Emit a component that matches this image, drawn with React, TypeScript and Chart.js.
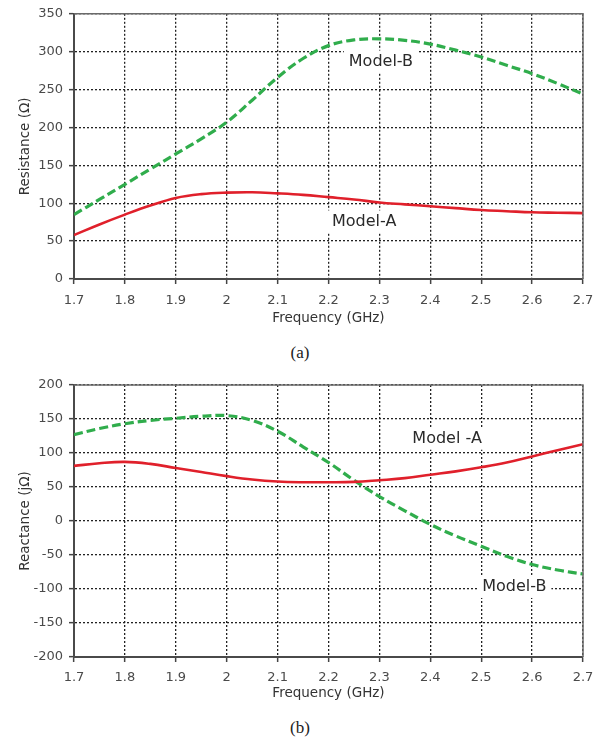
import React, { useEffect, useRef } from 'react';
import { Chart, registerables } from 'chart.js';

Chart.register(...registerables);

// ---------- data ----------
const freq = [1.7, 1.75, 1.8, 1.85, 1.9, 1.95, 2.0, 2.05, 2.1, 2.15, 2.2, 2.25, 2.3, 2.35, 2.4, 2.45, 2.5, 2.55, 2.6, 2.65, 2.7];
const resistanceA = [58, 72, 85, 97, 107, 112, 114, 114.5, 113, 111, 108, 105, 101, 98.5, 96, 93.5, 91, 89.5, 88, 87.5, 87];
const resistanceB = [85, 105, 125, 145, 165, 185, 207, 236, 266, 291, 308, 315.5, 317, 315, 310, 302, 293, 282, 271, 258, 244];
const reactanceA = [81, 85, 87, 84, 78, 72, 66, 61, 58, 57, 57, 57.5, 60, 63, 68, 73, 79, 86, 95, 104, 113];
const reactanceB = [127, 136, 143, 148, 151, 154, 155, 148, 132, 109, 86, 60, 36, 15, -5, -22, -37, -52, -64, -72, -78];

const xTickValues = [1.7, 1.8, 1.9, 2.0, 2.1, 2.2, 2.3, 2.4, 2.5, 2.6, 2.7];
const xTickLabels = ['1.7', '1.8', '1.9', '2', '2.1', '2.2', '2.3', '2.4', '2.5', '2.6', '2.7'];
const resistanceTicks = [0, 50, 100, 150, 200, 250, 300, 350];
const reactanceTicks = [-200, -150, -100, -50, 0, 50, 100, 150, 200];

const seriesNames = ['Model-A', 'Model-B'];
const topLabels = [
  { text: 'Model-B', x: 2.303, y: 287 },
  { text: 'Model-A', x: 2.27, y: 76 },
];
const bottomLabels = [
  { text: 'Model -A', x: 2.433, y: 121 },
  { text: 'Model-B', x: 2.565, y: -97 },
];

const RED = '#e0202b';
const GREEN = '#30ad4c';
const TICK_FONT = { family: '"DejaVu Sans", Verdana, sans-serif', size: 13 };
const TITLE_FONT = { family: '"DejaVu Sans", Verdana, sans-serif', size: 13.5 };

type Label = { text: string; x: number; y: number };

function makePlugin(labels: Label[]) {
  return {
    id: 'frameAndLabels',
    beforeDatasetsDraw(chart: any) {
      const { ctx } = chart;
      const xs = chart.scales.x;
      const ys = chart.scales.y;
      ctx.save();
      ctx.font = '16px "DejaVu Sans", Verdana, sans-serif';
      ctx.textAlign = 'center';
      ctx.textBaseline = 'middle';
      labels.forEach((l) => {
        const px = xs.getPixelForValue(l.x);
        const py = ys.getPixelForValue(l.y);
        const w = ctx.measureText(l.text).width;
        ctx.fillStyle = '#ffffff';
        ctx.fillRect(px - w / 2 - 5, py - 11, w + 10, 22);
        ctx.fillStyle = '#2a2a2a';
        ctx.fillText(l.text, px, py);
      });
      ctx.restore();
    },
    afterDraw(chart: any) {
      const { ctx, chartArea } = chart;
      const { left, top, right, bottom } = chartArea;
      ctx.save();
      ctx.strokeStyle = '#6a6a6a';
      ctx.lineWidth = 1.5;
      ctx.beginPath();
      ctx.moveTo(left, top);
      ctx.lineTo(right, top);
      ctx.lineTo(right, bottom);
      ctx.stroke();
      ctx.restore();
    },
  };
}

function buildConfig(
  a: number[],
  b: number[],
  yTicks: number[],
  yTitle: string,
  labels: Label[],
  padTop: number,
  xAxisHeight: number,
  xTickPad: number,
  xTitlePad: number
): any {
  return {
    type: 'line',
    data: {
      datasets: [
        {
          label: seriesNames[0],
          data: freq.map((f, i) => ({ x: f, y: a[i] })),
          borderColor: RED,
          borderWidth: 2.6,
          pointRadius: 0,
          tension: 0.4,
          fill: false,
        },
        {
          label: seriesNames[1],
          data: freq.map((f, i) => ({ x: f, y: b[i] })),
          borderColor: GREEN,
          borderWidth: 3.2,
          borderDash: [9, 4],
          pointRadius: 0,
          tension: 0.4,
          fill: false,
        },
      ],
    },
    options: {
      animation: false,
      responsive: false,
      maintainAspectRatio: false,
      layout: { padding: { top: padTop, right: 25, left: 0, bottom: 0 } },
      plugins: { legend: { display: false }, tooltip: { enabled: false } },
      scales: {
        x: {
          type: 'linear',
          min: 1.7,
          max: 2.7,
          afterBuildTicks: (s: any) => {
            s.ticks = xTickValues.map((v) => ({ value: v }));
          },
          afterFit: (s: any) => {
            s.height = xAxisHeight;
          },
          ticks: {
            autoSkip: false,
            maxRotation: 0,
            padding: xTickPad,
            color: '#4a4a4a',
            font: TICK_FONT,
            callback: (_v: any, i: number) => xTickLabels[i],
          },
          grid: {
            color: '#222',
            lineWidth: 1.3,
            tickLength: 5,
            tickColor: '#444',
            tickWidth: 1.5,
          },
          border: { display: true, color: '#4a4a4a', width: 2, dash: [2, 2] },
          title: {
            display: true,
            text: 'Frequency (GHz)',
            color: '#333',
            font: TITLE_FONT,
            padding: { top: 0, bottom: xTitlePad },
          },
        },
        y: {
          type: 'linear',
          min: yTicks[0],
          max: yTicks[yTicks.length - 1],
          afterBuildTicks: (s: any) => {
            s.ticks = yTicks.map((v) => ({ value: v }));
          },
          afterFit: (s: any) => {
            s.width = 74;
          },
          ticks: {
            padding: 6,
            color: '#4a4a4a',
            font: TICK_FONT,
            callback: (v: any) => String(v),
          },
          grid: {
            color: '#222',
            lineWidth: 1.3,
            tickLength: 5,
            tickColor: '#444',
            tickWidth: 1.5,
          },
          border: { display: true, color: '#4a4a4a', width: 2, dash: [2, 2] },
          title: {
            display: true,
            text: yTitle,
            color: '#333',
            font: TITLE_FONT,
            padding: { top: 17, bottom: 0 },
          },
        },
      },
    },
    plugins: [makePlugin(labels)],
  };
}

export default function App() {
  const topRef = useRef<HTMLCanvasElement | null>(null);
  const botRef = useRef<HTMLCanvasElement | null>(null);

  useEffect(() => {
    document.body.style.margin = '0';
    const c1 = new Chart(
      topRef.current as HTMLCanvasElement,
      buildConfig(resistanceA, resistanceB, resistanceTicks, 'Resistance (Ω)', topLabels, 12, 61, 9, 13)
    );
    const c2 = new Chart(
      botRef.current as HTMLCanvasElement,
      buildConfig(reactanceA, reactanceB, reactanceTicks, 'Reactance (jΩ)', bottomLabels, 20, 53, 8, 8)
    );
    return () => {
      c1.destroy();
      c2.destroy();
    };
  }, []);

  const caption: React.CSSProperties = {
    position: 'absolute',
    left: 0,
    width: 600,
    textAlign: 'center',
    fontFamily: '"Liberation Serif", "Times New Roman", serif',
    fontSize: 17,
    color: '#222',
    lineHeight: '20px',
  };

  return (
    <div style={{ position: 'relative', width: 608, height: 745, background: '#fff' }}>
      <canvas ref={topRef} width={608} height={340} style={{ position: 'absolute', left: 0, top: 0 }} />
      <div style={{ ...caption, top: 343 }}>(a)</div>
      <canvas ref={botRef} width={608} height={345} style={{ position: 'absolute', left: 0, top: 365 }} />
      <div style={{ ...caption, top: 718 }}>(b)</div>
    </div>
  );
}
